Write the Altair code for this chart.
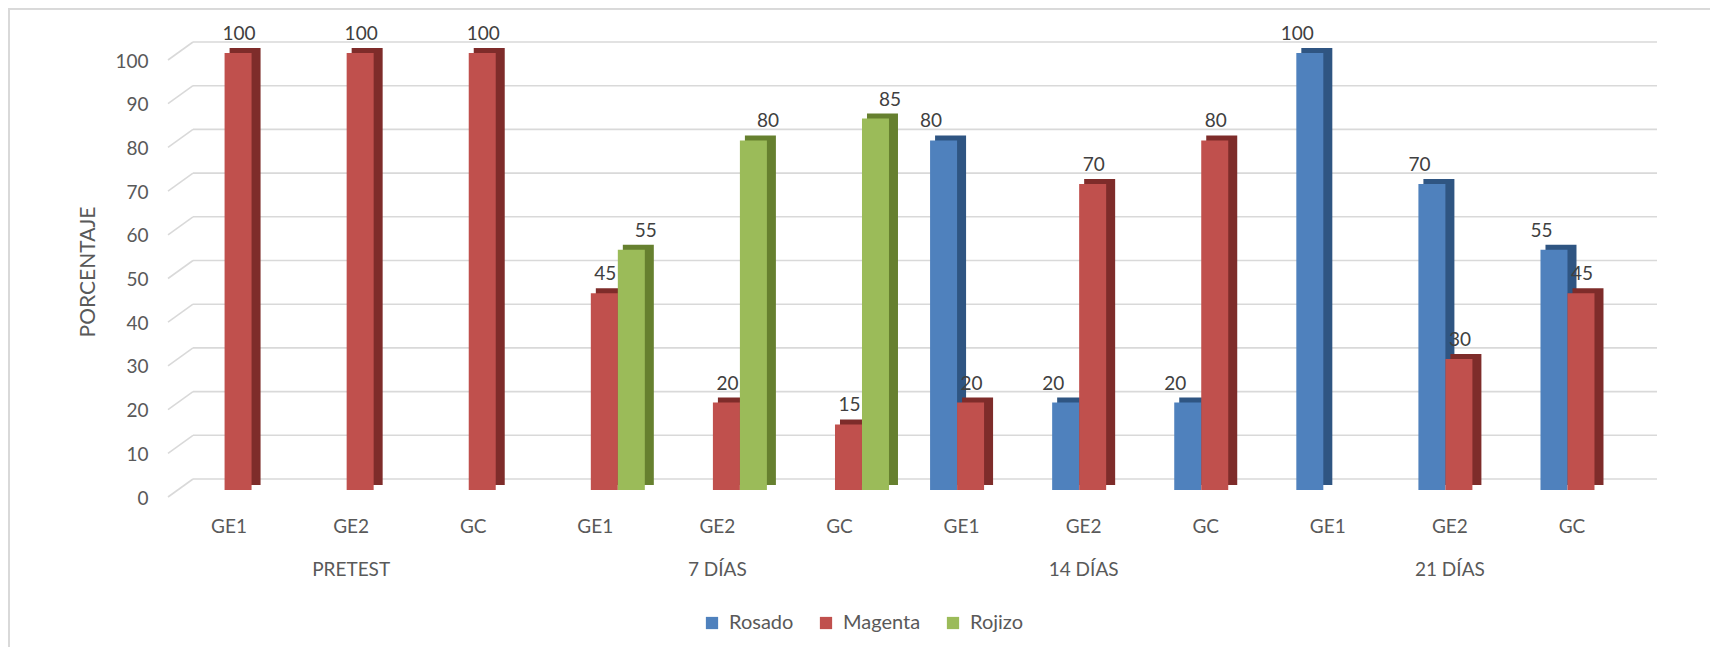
import altair as alt
import pandas as pd

# ---- data ----
periods = ["PRETEST", "7 DÍAS", "14 DÍAS", "21 DÍAS"]
groups = ["GE1", "GE2", "GC"]
series = ["Rosado", "Magenta", "Rojizo"]

rosado = [None, None, None, None, None, None, 80, 20, 20, 100, 70, 55]
magenta = [100, 100, 100, 45, 20, 15, 20, 70, 80, None, 30, 45]
rojizo = [None, None, None, 55, 80, 85, None, None, None, None, None, None]

y_ticks = [0, 10, 20, 30, 40, 50, 60, 70, 80, 90, 100]

front_colors = ["#4F81BD", "#C0504D", "#9BBB59"]
side_colors = ["#2F5582", "#7E2C2A", "#66802F"]

keys = [f"{p}|{g}" for p in periods for g in groups]
rows = []
for name, vals in zip(series, [rosado, magenta, rojizo]):
    for k, v in zip(keys, vals):
        if v is not None:
            rows.append({"key": k, "serie": name, "valor": v})
df = pd.DataFrame(rows)
grid_df = pd.DataFrame({"valor": y_ticks})

W, H = 1465, 437
FONT = "Lato"
TXT = "#595959"

yscale = alt.Scale(domain=[0, 100], nice=False, zero=True)
xscale = alt.Scale(paddingInner=0.337, paddingOuter=0.1685)

label_expr = ("split(datum.value,'|')[1] == 'GE2' ? "
              "[split(datum.value,'|')[1], split(datum.value,'|')[0]] : "
              "split(datum.value,'|')[1]")

x_axis = alt.Axis(labelExpr=label_expr, labelAngle=0, domain=False,
                  ticks=False, tickSize=0, grid=False, labelPadding=27,
                  labelOffset=-9, labelFont=FONT, labelFontSize=19,
                  labelColor=TXT, labelLineHeight=43,
                  labelOverlap=False, labelBound=False)
y_axis = alt.Axis(values=y_ticks, domain=False, ticks=False, tickSize=0,
                  grid=False, labelPadding=29, labelOffset=8,
                  labelFont=FONT, labelFontSize=19, labelColor=TXT,
                  titleFont=FONT, titleFontSize=21, titleColor=TXT,
                  titleFontWeight="normal", titlePadding=16)

legend = alt.Legend(title=None, orient="none", legendX=525, legendY=560,
                    direction="horizontal", symbolType="square",
                    symbolSize=150, symbolStrokeWidth=0, gridAlign="none",
                    labelFont=FONT, labelFontSize=20, labelColor=TXT,
                    labelOffset=7, columnPadding=22)


def X():
    return alt.X("key:N", sort=keys, scale=xscale, title=None, axis=x_axis)


def Y():
    return alt.Y("valor:Q", scale=yscale, title="PORCENTAJE", axis=y_axis)


def XO(rng):
    return alt.XOffset("serie:N", sort=series,
                       scale=alt.Scale(domain=series, range=rng, paddingInner=0, paddingOuter=0))


# back-wall gridlines
grid = alt.Chart(grid_df).mark_rule(color="#D9D9D9", strokeWidth=1.6, yOffset=-11).encode(
    x=alt.value(16), x2=alt.value(1480), y=Y(),
)
# left-wall diagonals
diag = alt.Chart(grid_df).mark_rule(color="#D9D9D9", strokeWidth=1.6,
                                    yOffset=7, y2Offset=-11).encode(
    x=alt.value(-9), x2=alt.value(16), y=Y(), y2="valor:Q",
)

# front faces (carry the legend)
front = alt.Chart(df).mark_bar().encode(
    x=X(), xOffset=XO([0, 81]), y=Y(),
    color=alt.Color("serie:N", sort=series,
                    scale=alt.Scale(domain=series, range=front_colors), legend=legend),
)

# dark side/top faces (shifted behind the front faces)
side = alt.Chart(df).mark_bar(width=31, yOffset=-5, y2Offset=-5).encode(
    x=X(), xOffset=XO([7, 88]), y=Y(),
    color=alt.Color("serie:N", sort=series,
                    scale=alt.Scale(domain=series, range=side_colors), legend=None),
)

labels = alt.Chart(df).mark_text(baseline="alphabetic", dy=-13, dx=1, font=FONT,
                                 fontSize=19, color="#404040").encode(
    x=X(), xOffset=XO([0, 81]), y=Y(), text=alt.Text("valor:Q"),
)

# chart frame (top and left edges)
frame_top = alt.Chart(grid_df).mark_rule(color="#D9D9D9", strokeWidth=1.5).encode(
    x=alt.value(-168), x2=alt.value(W + 68), y=alt.value(-44.2))
frame_left = alt.Chart(grid_df).mark_rule(color="#D9D9D9", strokeWidth=1.5).encode(
    x=alt.value(-168.2), y=alt.value(-45), y2=alt.value(H + 157))

bars = alt.layer(side, front).resolve_scale(xOffset="independent", color="independent")

chart = alt.layer(grid, diag, bars, labels, frame_top, frame_left).resolve_scale(
    xOffset="independent", color="independent"
).properties(
    width=W, height=H,
    padding={"left": 169, "top": 45, "right": 68, "bottom": 157},
    autosize=alt.AutoSizeParams(type="none"),
).configure_view(stroke=None)

chart.save("out.html", embed_options={"renderer": "svg", "actions": False})
